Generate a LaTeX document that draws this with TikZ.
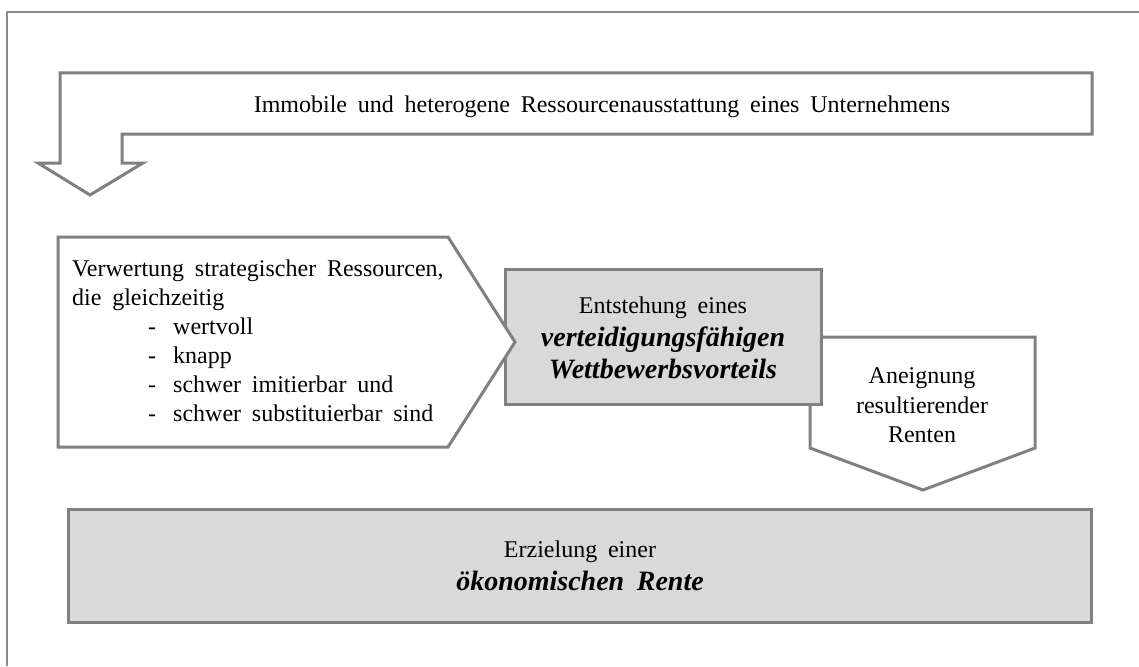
\documentclass[tikz,border=0pt]{standalone}
\usepackage{fontspec}
\setmainfont{Liberation Serif}
\definecolor{linegray}{RGB}{128,128,128}
\definecolor{framegray}{RGB}{140,140,140}
\definecolor{boxgray}{RGB}{217,217,217}
% wider word spaces for the labels
\newcommand\widesp{\spaceskip=0.45em plus 0.1em\relax}
\begin{document}
\begin{tikzpicture}[x=1pt,y=-1pt,
  outline/.style={draw=linegray, line width=3pt, line join=miter},
  whiteshape/.style={outline, fill=white},
  grayshape/.style={outline, fill=boxgray},
  plain/.style={inner sep=0pt, font=\fontsize{24}{29}\selectfont},
  emph/.style={inner sep=0pt, font=\fontsize{28}{32}\selectfont\bfseries\itshape}]
\useasboundingbox (0,0) rectangle (1139,666);

% page frame (top and left edge)
\draw[framegray, line width=1.5pt] (7,666) -- (7,12) -- (1139,12);

% bent arrow across the top
\draw[whiteshape] (60,73) -- (1092,73) -- (1092,134) -- (122,134) -- (122,163)
  -- (143,163) -- (90,195) -- (38,163) -- (60,163) -- cycle;
\node[plain, anchor=base] (ressourcen) at (602,113)
  {\widesp Immobile und heterogene Ressourcenausstattung eines Unternehmens};

% downward arrow on the right
\draw[whiteshape] (810,337) -- (1035,337) -- (1035,448) -- (923,490) -- (810,448) -- cycle;
\node[plain, anchor=base] (aneignung1) at (922,383) {Aneignung};
\node[plain, anchor=base] (aneignung2) at (922,413) {resultierender};
\node[plain, anchor=base] (aneignung3) at (922,442) {Renten};

% grey box in the middle
\draw[grayshape] (505,269) rectangle (821,404);
\node[plain, anchor=base] (entstehung1) at (663,313) {\widesp Entstehung eines};
\node[emph, anchor=base] (entstehung2) at (663,346) {verteidigungsfähigen};
\node[emph, anchor=base] (entstehung3) at (663,378) {Wettbewerbsvorteils};

% pentagon arrow on the left
\draw[whiteshape] (58,237) -- (448,237) -- (515,342) -- (448,447) -- (58,447) -- cycle;
\node[plain, anchor=base west] (verwertung1) at (72,276) {\widesp Verwertung strategischer Ressourcen,};
\node[plain, anchor=base west] (verwertung2) at (72,305) {\widesp die gleichzeitig};
\node[plain, anchor=base west] (item1) at (148,334) {\makebox[25pt][l]{-}wertvoll};
\node[plain, anchor=base west] (item2) at (148,363) {\makebox[25pt][l]{-}knapp};
\node[plain, anchor=base west] (item3) at (148,392) {\widesp\makebox[25pt][l]{-}schwer imitierbar und};
\node[plain, anchor=base west] (item4) at (148,421) {\widesp\makebox[25pt][l]{-}schwer substituierbar sind};

% grey box at the bottom
\draw[grayshape] (68,509) rectangle (1091,622);
\node[plain, anchor=base] (rente1) at (580,557) {\widesp Erzielung einer};
\node[emph, anchor=base] (rente2) at (580,590) {\widesp ökonomischen Rente};
\end{tikzpicture}
\end{document}
